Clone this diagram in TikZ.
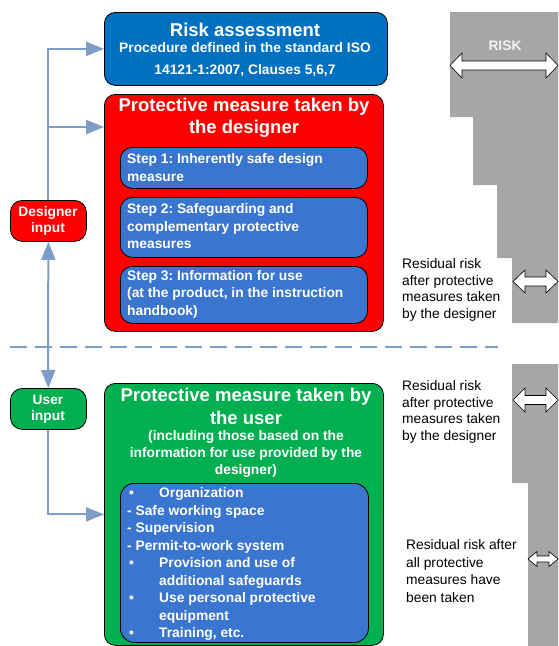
\documentclass[tikz,border=0pt]{standalone}
\usepackage{fontspec}
\setmainfont{Liberation Sans}
\usetikzlibrary{arrows.meta}
\frenchspacing
\definecolor{rablue}{HTML}{0070C0}
\definecolor{desred}{HTML}{FF0000}
\definecolor{usegreen}{HTML}{00B050}
\definecolor{stepblue}{HTML}{3A75CF}
\definecolor{flowline}{HTML}{7F9CC8}
\definecolor{riskgray}{HTML}{A6A6A6}
\definecolor{risklabel}{HTML}{F2F2F2}

% double-headed hollow arrow: x1, x2, y, head half-height, shaft half-height, head length
\newcommand\riskspan[6]{%
  \draw[fill=white, draw=black, line width=0.6pt]
    (#1,#3) -- (#1+#6,#3-#4) -- (#1+#6,#3-#5) -- (#2-#6,#3-#5) -- (#2-#6,#3-#4)
    -- (#2,#3) -- (#2-#6,#3+#4) -- (#2-#6,#3+#5) -- (#1+#6,#3+#5) -- (#1+#6,#3+#4) -- cycle;}

\begin{document}
\begin{tikzpicture}[x=1pt,y=-1pt,
  box/.style={draw=black, line width=0.8pt, rounded corners=11pt, anchor=north west, inner sep=0pt},
  stepbox/.style={box, fill=stepblue, rounded corners=12pt, minimum width=247pt},
  inbox/.style={box, rounded corners=12pt, minimum width=76pt, minimum height=41pt},
  bigtitle/.style={text=white, align=center, font=\fontsize{18.5}{22.5}\selectfont\bfseries},
  subtitle/.style={text=white, align=center, font=\fontsize{13.8}{17}\selectfont\bfseries},
  steptext/.style={text=white, align=left, anchor=west, inner sep=0pt, font=\fontsize{13.8}{17.5}\selectfont\bfseries},
  intext/.style={text=white, align=center, font=\fontsize{13.8}{16}\selectfont\bfseries},
  residual/.style={align=left, anchor=west, inner sep=0pt, font=\fontsize{13.8}{16.8}\selectfont},
  conn/.style={draw=flowline, line width=2pt},
  connarrow/.style={conn, -{Triangle[length=18pt,width=14pt]}},
  dashline/.style={draw=flowline, line width=2pt, dash pattern=on 17pt off 8pt}
]
\useasboundingbox (0,0) rectangle (558,646);

% ---- risk staircase on the right ----
\fill[riskgray] (450,12) -- (558,12) -- (558,323) -- (512,323) -- (512,258) -- (497,258)
  -- (497,185) -- (473,185) -- (473,117) -- (450,117) -- cycle;
\fill[riskgray] (512,364) -- (558,364) -- (558,646) -- (528,646) -- (528,483) -- (512,483) -- cycle;
\node[text=risklabel, font=\fontsize{13.8}{15}\selectfont\bfseries] (risklbl) at (505,46) {RISK};
\riskspan{450}{558}{65.5}{12.5}{4.5}{12}
\riskspan{513}{558}{281.5}{11.5}{4.5}{12}
\riskspan{513}{558}{400}{12}{4.5}{12}
\riskspan{528}{558}{559}{7.5}{3}{9}

\node[residual] (res1) at (402,290) {Residual risk\\after protective\\measures taken\\by the designer};
\node[residual] (res2) at (402,412) {Residual risk\\after protective\\measures taken\\by the designer};
\node[residual, font=\fontsize{13.8}{17.5}\selectfont] (res3) at (406,571) {Residual risk after\\all protective\\measures have\\been taken};

% ---- risk assessment ----
\node[box, fill=rablue, minimum width=283pt, minimum height=73pt] (ra) at (104,12) {};
\node[bigtitle] (ratitle) at (245,30) {Risk assessment};
\node[subtitle, font=\fontsize{13.8}{22}\selectfont\bfseries] (rasub) at (245,60) {Procedure defined in the standard ISO\\14121-1:2007, Clauses 5,6,7};

% ---- designer measures ----
\node[box, fill=desred, minimum width=279pt, minimum height=237pt] (red) at (104,94) {};
\node[bigtitle] (redtitle) at (244,118) {Protective measure taken by\\the designer};
\node[stepbox, minimum height=41pt] (s1) at (120,147) {};
\node[stepbox, minimum height=60pt] (s2) at (120,197) {};
\node[stepbox, minimum height=57pt] (s3) at (120,266) {};
\node[steptext] (s1t) at (127,167.5) {Step 1: Inherently safe design\\measure};
\node[steptext] (s2t) at (127,226.5) {Step 2: Safeguarding and\\complementary protective\\measures};
\node[steptext] (s3t) at (127,294) {Step 3: Information for use\\(at the product, in the instruction\\handbook)};

% ---- user measures ----
\node[box, fill=usegreen, minimum width=279pt, minimum height=262pt] (green) at (104,383) {};
\node[bigtitle] (greentitle) at (246,406.5) {Protective measure taken by\\the user};
\node[subtitle] (greensub) at (246,454) {(including those based on the\\information for use provided by the\\designer)};
\node[box, fill=stepblue, rounded corners=14pt, minimum width=248pt, minimum height=159pt] (list) at (120,483) {};
\node[steptext] (listt) at (127,564) {%
  \makebox[32pt][l]{\hspace{2pt}•}Organization\\
  - Safe working space\\
  - Supervision\\
  - Permit-to-work system\\
  \makebox[32pt][l]{\hspace{2pt}•}Provision and use of\\
  \makebox[32pt][l]{}additional safeguards\\
  \makebox[32pt][l]{\hspace{2pt}•}Use personal protective\\
  \makebox[32pt][l]{}equipment\\
  \makebox[32pt][l]{\hspace{2pt}•}Training, etc.};

% ---- input boxes ----
\node[inbox, fill=desred] (din) at (10,200) {};
\node[intext] (dint) at (48,221) {Designer\\input};
\node[inbox, fill=usegreen] (uin) at (10,388) {};
\node[intext] (uint) at (48,409) {User\\input};

% ---- flow connectors ----
\coordinate (j1) at (48,127);
\coordinate (j2) at (48,347);
\coordinate (dl) at (10,347);
\coordinate (dr) at (498,347);
\draw[dashline] (dl) -- (dr);
\draw[connarrow] (din.north) |- (ra.west);
\draw[connarrow] (j1) -- (j1 -| red.west);
\draw[connarrow] (j2) -- (din.south);
\draw[connarrow] (j2) -- (uin.north);
\draw[connarrow] (uin.south) |- (green.west);
\end{tikzpicture}
\end{document}
